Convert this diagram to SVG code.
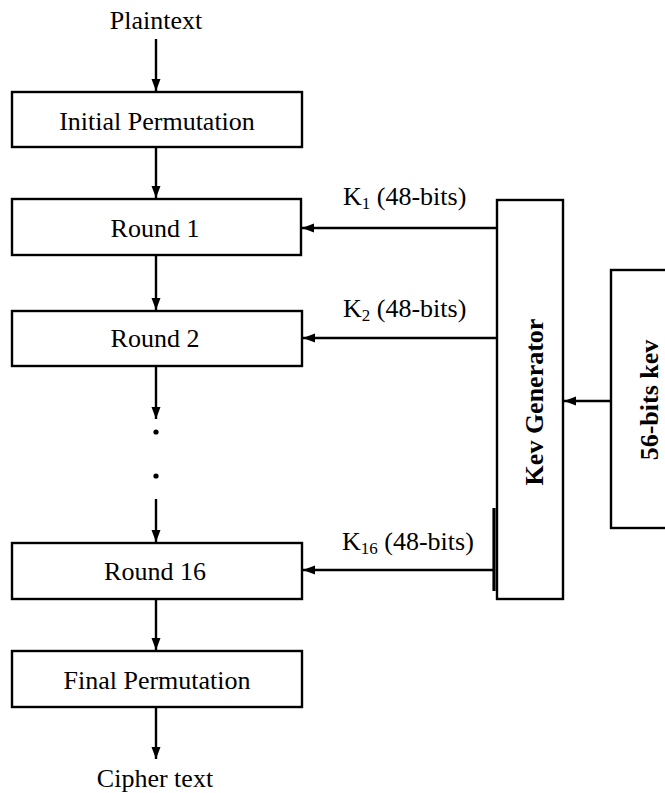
<svg xmlns="http://www.w3.org/2000/svg" width="665" height="793" viewBox="0 0 665 793">
<defs>
<marker id="ah" viewBox="0 0 12 10" refX="12" refY="5" markerWidth="12" markerHeight="10" markerUnits="userSpaceOnUse" orient="auto">
<path d="M0,0.5 L12,5 L0,9.5 Z" fill="#000"/>
</marker>
</defs>
<style>
.box{fill:#fff;stroke:#000;stroke-width:2.4}
.t{font-family:"Liberation Serif","Times New Roman",serif;font-size:26px;fill:#000}
.b{font-family:"Liberation Serif","Times New Roman",serif;font-size:26px;font-weight:bold;fill:#000}
.k{font-family:"Liberation Serif","Times New Roman",serif;font-size:26px;fill:#000}
.ln{stroke:#000;stroke-width:2.4;fill:none}
</style>
<rect width="665" height="793" fill="#fff"/>
<g id="plaintext"><text class="t" x="156" y="29" text-anchor="middle">Plaintext</text></g>
<g id="initial"><rect class="box" x="12" y="92" width="290" height="55"/><text class="t" x="157" y="130" text-anchor="middle">Initial Permutation</text></g>
<g id="round1"><rect class="box" x="12" y="199" width="289" height="56"/><text class="t" x="155" y="237" text-anchor="middle">Round 1</text></g>
<g id="round2"><rect class="box" x="12" y="311" width="290" height="55"/><text class="t" x="155" y="347" text-anchor="middle">Round 2</text></g>
<g id="dots"><circle cx="156" cy="432" r="2.6" fill="#000"/><circle cx="156" cy="476" r="2.6" fill="#000"/></g>
<g id="round16"><rect class="box" x="12" y="543" width="290" height="56"/><text class="t" x="155" y="580" text-anchor="middle">Round 16</text></g>
<g id="final"><rect class="box" x="12" y="651" width="290" height="56"/><text class="t" x="157" y="689" text-anchor="middle">Final Permutation</text></g>
<g id="ciphertext"><text class="t" x="155" y="787" text-anchor="middle">Cipher text</text></g>
<g id="keygen"><rect class="box" x="497" y="200" width="66" height="399"/><text class="b" transform="translate(543,402) rotate(-90)" text-anchor="middle">Kev Generator</text></g>
<g id="key56"><rect class="box" x="611" y="270" width="60" height="258"/><text class="b" transform="translate(658,400) rotate(-90)" text-anchor="middle">56-bits kev</text></g>
<g id="connectors">
<line class="ln" x1="156" y1="39" x2="156" y2="91" marker-end="url(#ah)"/>
<line class="ln" x1="156" y1="147" x2="156" y2="198" marker-end="url(#ah)"/>
<line class="ln" x1="156" y1="255" x2="156" y2="310" marker-end="url(#ah)"/>
<line class="ln" x1="156" y1="366" x2="156" y2="419" marker-end="url(#ah)"/>
<line class="ln" x1="156" y1="499" x2="156" y2="542" marker-end="url(#ah)"/>
<line class="ln" x1="156" y1="599" x2="156" y2="650" marker-end="url(#ah)"/>
<line class="ln" x1="156" y1="707" x2="156" y2="759" marker-end="url(#ah)"/>
<line class="ln" x1="497" y1="228" x2="302" y2="228" marker-end="url(#ah)"/>
<line class="ln" x1="497" y1="338" x2="303" y2="338" marker-end="url(#ah)"/>
<line class="ln" x1="494" y1="570" x2="303" y2="570" marker-end="url(#ah)"/>
<line x1="494" y1="508" x2="494" y2="591" stroke="#000" stroke-width="3.2"/>
<line class="ln" x1="611" y1="401" x2="564" y2="401" marker-end="url(#ah)"/>
<text class="k" x="343" y="205">K<tspan font-size="17" dy="4">1</tspan><tspan dy="-4"> (48-bits)</tspan></text>
<text class="k" x="343" y="317">K<tspan font-size="17" dy="4">2</tspan><tspan dy="-4"> (48-bits)</tspan></text>
<text class="k" x="342" y="550">K<tspan font-size="17" dy="4">16</tspan><tspan dy="-4"> (48-bits)</tspan></text>
</g>
</svg>
